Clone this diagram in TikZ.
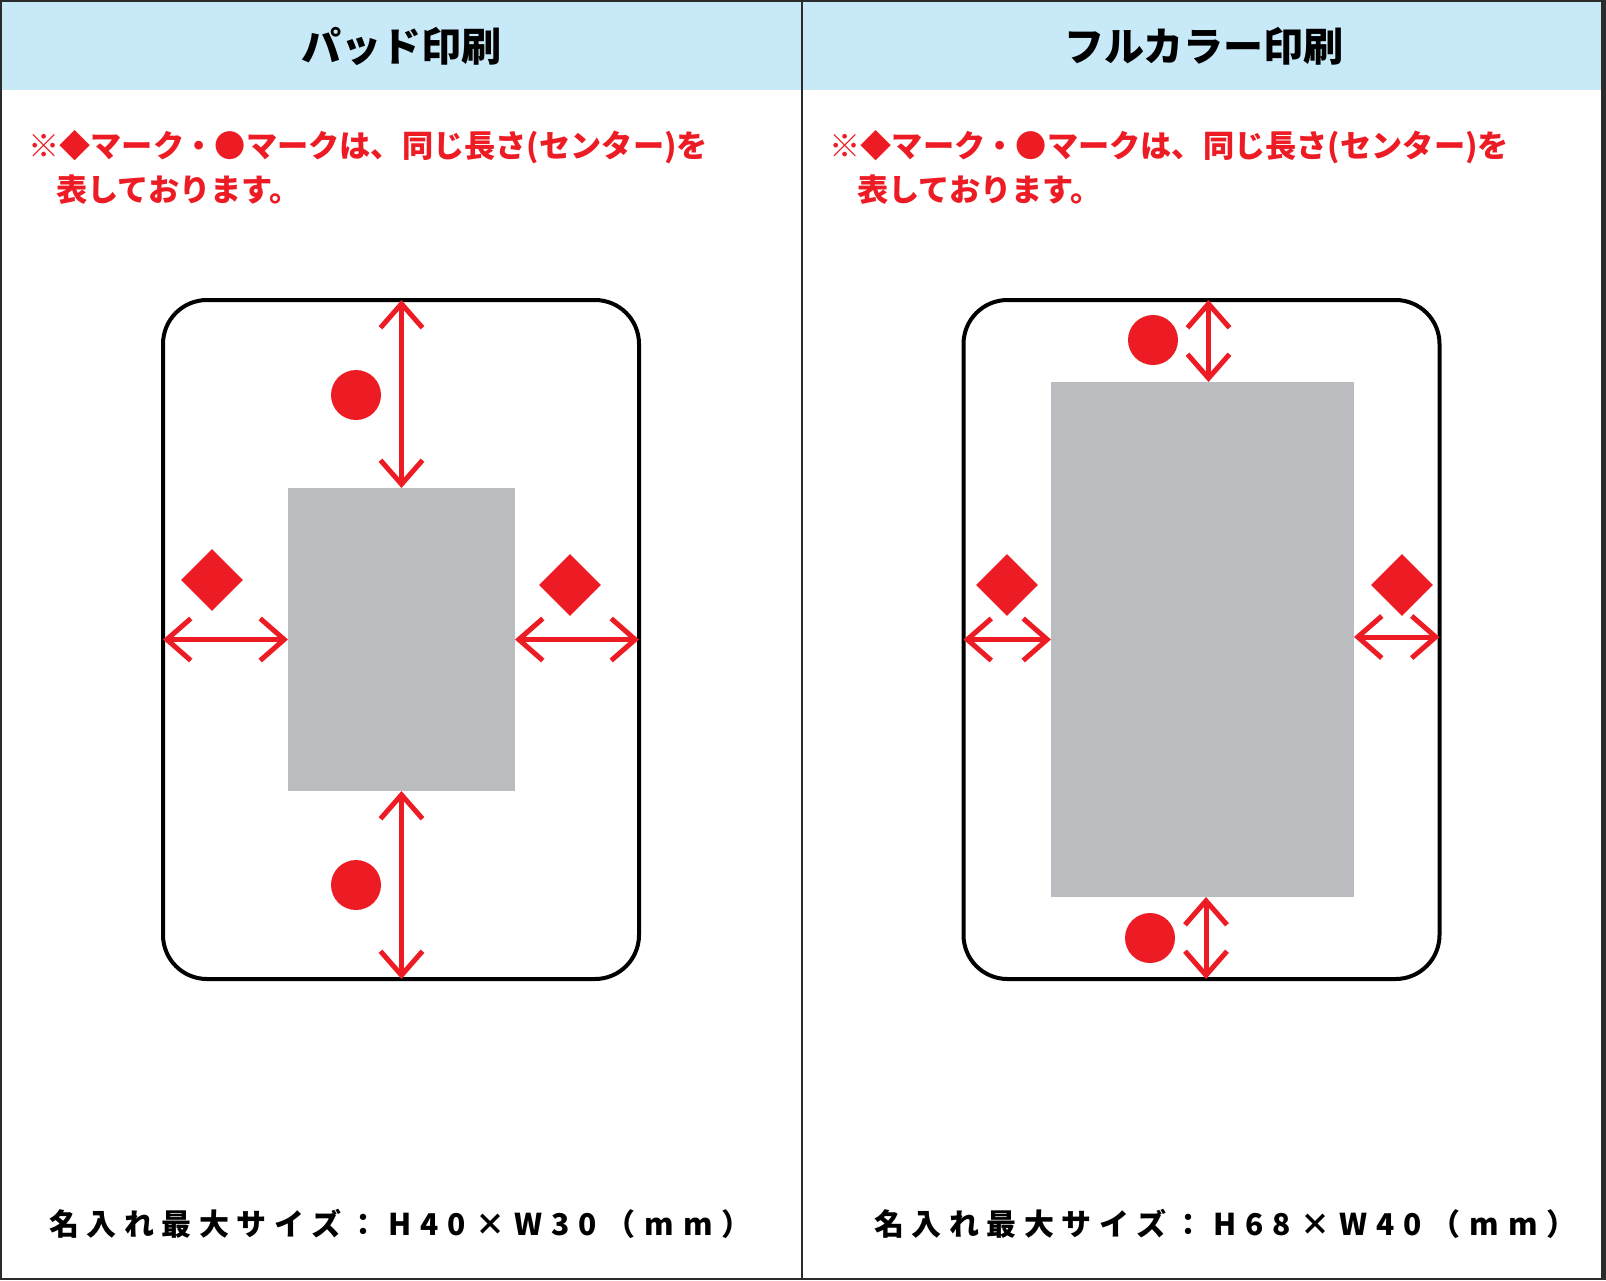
\documentclass[tikz,border=0pt]{standalone}
\usepackage{fontspec}
\usetikzlibrary{arrows.meta}
\usetikzlibrary{shapes.geometric}
\newfontfamily\jpfont{Noto Sans CJK JP}
\definecolor{markred}{HTML}{ED1C24}
\definecolor{areagray}{HTML}{BBBCC0}
\definecolor{headblue}{HTML}{C7E9F8}
\definecolor{framegray}{HTML}{2B2B2B}

\begin{document}
\begin{tikzpicture}[x=0.5pt,y=-0.5pt,
    title/.style={inner sep=0pt,font=\jpfont\bfseries\fontsize{20pt}{20pt}\selectfont},
    note/.style={inner sep=0pt,anchor=west,text=markred,font=\jpfont\bfseries\fontsize{15.6pt}{15.6pt}\selectfont},
    sizelabel/.style={inner sep=0pt,anchor=west,font=\jpfont\bfseries\fontsize{15pt}{15pt}\selectfont\addfontfeature{LetterSpace=25}},
    card/.style={draw=black,line width=2pt,rounded corners=22pt,outer sep=0pt,inner sep=0pt,minimum width=238pt,minimum height=339.5pt},
    area/.style={fill=areagray,outer sep=0pt,inner sep=0pt},
    dot/.style={circle,fill=markred,inner sep=0pt,minimum size=25pt},
    diam/.style={diamond,fill=markred,inner sep=0pt,minimum width=31pt,minimum height=31pt},
    dimarrow/.style={draw=markred,line width=2.5pt,{Straight Barb[sharp,length=12pt,width=21pt]}-{Straight Barb[sharp,length=12pt,width=21pt]}}]
    \useasboundingbox (0,0) rectangle (1606,1280);

    \fill[headblue] (0,0) rectangle (1606,90);
    \draw[framegray,line width=1pt] (1,1) rectangle (1602,1279);
    \fill[framegray] (1601,0) rectangle (1606,1280);
    \draw[framegray,line width=1pt] (802,0) -- (802,1280);

    \node[title] (padtitle) at (401,46) {パッド印刷};
    \node[title] (fulltitle) at (1204,46) {フルカラー印刷};

    \node[note] (padnote) at (28,147) {※◆マーク・●マークは、同じ長さ(センター)を};
    \node[note] (padnotetwo) at (56,190) {表しております。};
    \node[note] (fullnote) at (829,147) {※◆マーク・●マークは、同じ長さ(センター)を};
    \node[note] (fullnotetwo) at (857,190) {表しております。};

    \node[card] (padcard) at (401,639.5) {};
    \node[area,minimum width=113.5pt,minimum height=151.5pt] (padarea) at (401.5,639.5) {};
    \draw[dimarrow] (padarea.north) -- (padarea.north |- padcard.north);
    \draw[dimarrow] (padarea.south) -- (padarea.south |- padcard.south);
    \draw[dimarrow] (padarea.west) -- (padarea.west -| padcard.west);
    \draw[dimarrow] (padarea.east) -- (padarea.east -| padcard.east);
    \node[dot] (padtopdot) at (356,395) {};
    \node[dot] (padbotdot) at (356,885) {};
    \node[diam] (padleftdiam) at (212,580) {};
    \node[diam] (padrightdiam) at (570,585) {};

    \node[card] (fullcard) at (1201.5,639.5) {};
    \node[area,minimum width=151.5pt,minimum height=257.5pt] (fullarea) at (1202.5,639.5) {};
    \coordinate (fulltop) at (1208.5,382);
    \coordinate (fullbot) at (1206,897);
    \coordinate (fullright) at (1354,637);
    \draw[dimarrow] (fulltop) -- (fulltop |- fullcard.north);
    \draw[dimarrow] (fullbot) -- (fullbot |- fullcard.south);
    \draw[dimarrow] (fullarea.west) -- (fullarea.west -| fullcard.west);
    \draw[dimarrow] (fullright) -- (fullright -| fullcard.east);
    \node[dot] (fulltopdot) at (1153,340) {};
    \node[dot] (fullbotdot) at (1150,938) {};
    \node[diam] (fullleftdiam) at (1007,585) {};
    \node[diam] (fullrightdiam) at (1402,585) {};

    \node[sizelabel] (padsize) at (49,1224) {名入れ最大サイズ：\hspace{5pt}{\addfontfeature{LetterSpace=30}H40×W30（mm）}};
    \node[sizelabel] (fullsize) at (874,1224) {名入れ最大サイズ：\hspace{5pt}{\addfontfeature{LetterSpace=30}H68×W40（mm）}};
\end{tikzpicture}
\end{document}
